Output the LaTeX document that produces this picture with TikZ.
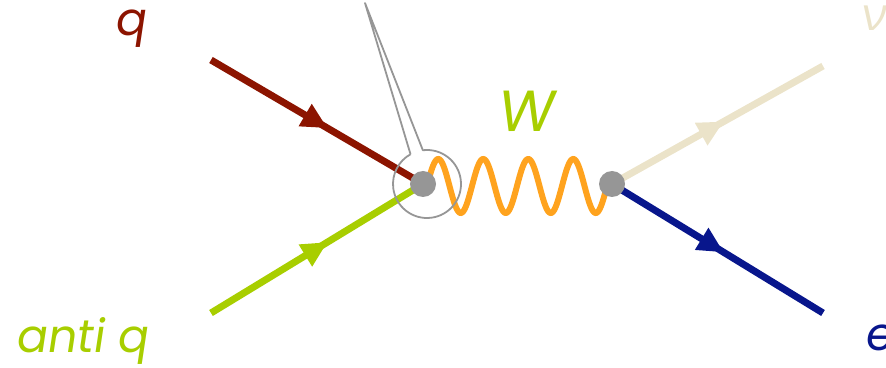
\documentclass[tikz,border=0pt]{standalone}
\usepackage{fontspec}
\newfontfamily\labfont[FakeSlant=0.15]{Poppins}
\newfontfamily\greekfont[FakeSlant=0.15]{Open Sans}
\usetikzlibrary{arrows.meta,decorations.markings}
\definecolor{quarkred}{RGB}{140,20,0}
\definecolor{antigreen}{RGB}{168,206,0}
\definecolor{nubeige}{RGB}{235,227,201}
\definecolor{eblue}{RGB}{8,22,140}
\definecolor{worange}{RGB}{255,163,30}
\definecolor{dotgray}{RGB}{150,150,150}
\tikzset{
  fermion/.style={line width=7pt,
    decoration={markings,mark=at position #1 with {\arrow{Triangle[length=26pt,width=24pt]}}},
    postaction={decorate}},
  fermion/.default=0.55,
  vertex/.style={circle,fill=dotgray,inner sep=0pt,minimum size=26pt},
  lab/.style={font=\labfont\fontsize{46}{54}\selectfont,inner sep=0pt}
}
\begin{document}
\begin{tikzpicture}[x=1pt,y=1pt]
  \useasboundingbox (0,0) rectangle (886,367);
  % ends of the lines
  \coordinate (qin) at (211,307);
  \coordinate (aqin) at (211,54);
  \coordinate (nuout) at (823,301);
  \coordinate (eout) at (823,54);
  \coordinate (vl) at (423,183);
  \coordinate (vr) at (612,183);
  \coordinate (ring) at (427,183);
  \coordinate (tip) at (365,364);
  % incoming quarks
  \draw[fermion,quarkred] (qin) -- (vl);
  \draw[fermion,antigreen] (aqin) -- (vl);
  % outgoing leptons
  \draw[fermion=0.53,nubeige] (vr) -- (nuout);
  \draw[fermion=0.53,eblue] (vr) -- (eout);
  % W boson
  \draw[worange,line width=6pt] plot[domain=427:607,samples=240] (\x,{181+27*sin(8*(\x-427))});
  \node[vertex] (left) at (vl) {};
  \node[vertex] (right) at (vr) {};
  % callout round the left vertex
  \draw[dotgray,line width=1.8pt,line join=round]
    ([shift={(119:34)}]ring) -- (tip) -- ([shift={(97:34)}]ring)
    arc[start angle=97,end angle=-241,radius=34];
  % labels
  \node[lab,quarkred,anchor=base] (qlab) at (130,331) {q};
  \node[lab,antigreen,anchor=base west] (aqlab) at (15,15) {anti q};
  \node[lab,font=\labfont\fontsize{58}{66}\selectfont,antigreen,anchor=base] (wlab) at (525,235) {W};
  \node[lab,font=\greekfont\fontsize{46}{54}\selectfont,nubeige,anchor=base west] (nulab) at (860,336) {ν};
  \node[lab,eblue,anchor=base west] (elab) at (864,17) {e};
\end{tikzpicture}
\end{document}
